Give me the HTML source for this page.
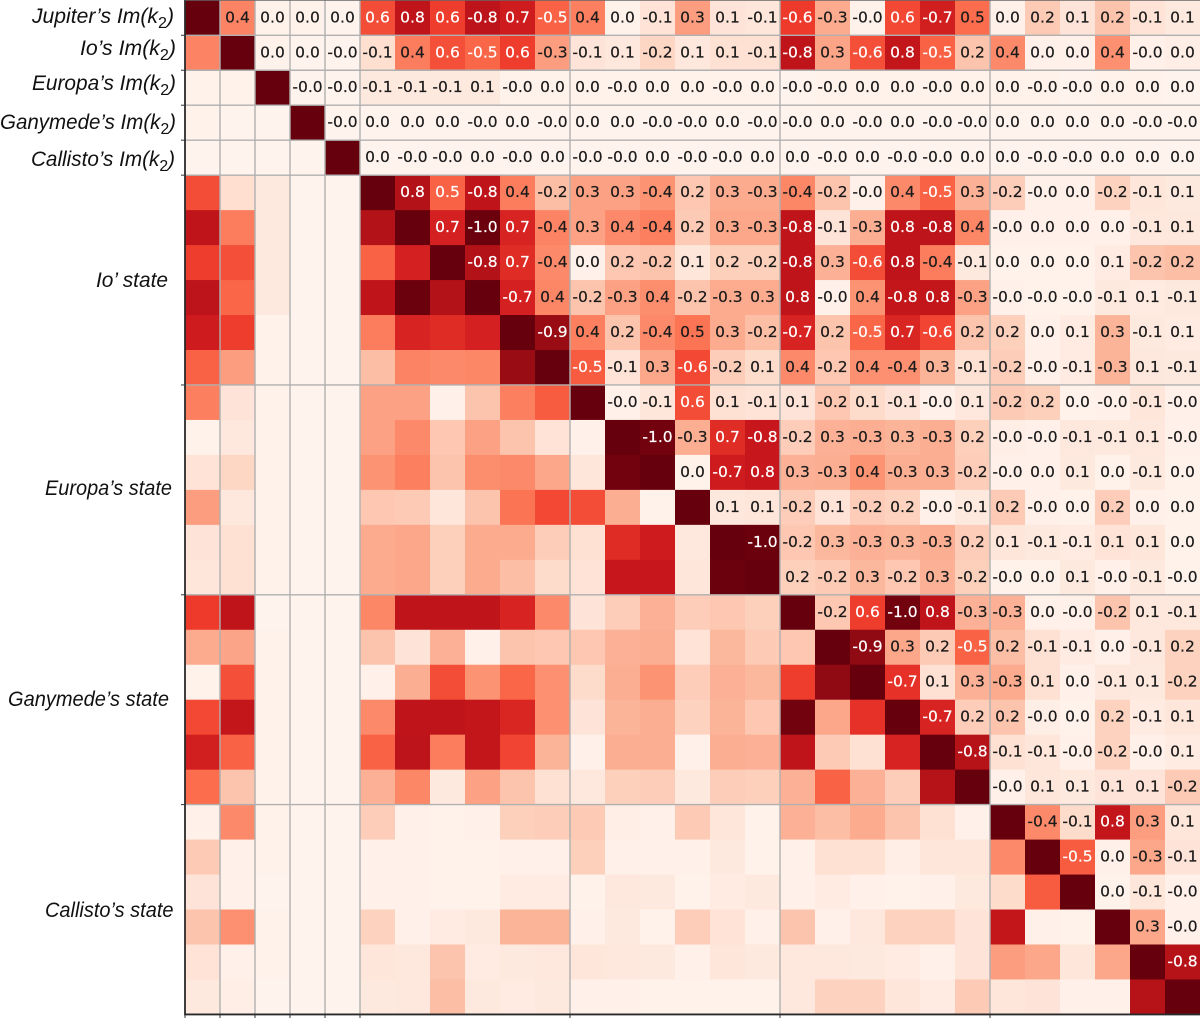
<!DOCTYPE html>
<html lang="en">
<head>
<meta charset="utf-8">
<title>Correlation matrix</title>
<style>
html,body{margin:0;padding:0;background:#fff;width:1200px;height:1018px;overflow:hidden}
svg{display:block}
.val{font-family:"DejaVu Sans",sans-serif;font-size:15.5px;text-anchor:middle;stroke-width:.2px}
.lab{font-family:"Liberation Sans",sans-serif;font-style:italic;font-size:21px;fill:#111}
</style>
</head>
<body>
<svg id="chart" xmlns="http://www.w3.org/2000/svg" width="1200" height="1018" viewBox="0 0 1200 1018"></svg>
<script>
// Upper-triangle correlation values, one array per row (values right of the diagonal)
const rowJupiterK2 = [0.42,0.02,0.02,0.01, 0.58,0.79,0.62,-0.80,0.74,-0.52, 0.43,0.02,-0.11,0.34,0.10,-0.09, -0.63,-0.30,-0.02,0.59,-0.73,0.49, 0.03,0.20,0.10,0.22,-0.11,0.07];
const rowIoK2 = [0.02,0.01,-0.01, -0.13,0.44,0.57,-0.51,0.62,-0.34, -0.10,0.08,-0.16,0.08,0.12,-0.12, -0.79,0.32,-0.57,0.78,-0.52,0.22, 0.40,0.03,0.03,0.38,-0.03,0.04];
const rowEuropaK2 = [-0.01,-0.01, -0.07,-0.07,-0.07,0.07,-0.02,0.02, 0.02,-0.02,0.02,0.02,-0.02,0.02, -0.01,-0.02,0.02,0.02,-0.02,0.02, 0.02,-0.02,-0.01,0.02,0.02,0.01];
const rowGanymedeK2 = [-0.01, 0.01,0.01,0.01,-0.01,0.01,-0.01, 0.01,0.01,-0.01,-0.01,0.01,-0.01, -0.01,0.01,-0.01,0.01,-0.01,-0.01, 0.01,0.01,0.01,0.01,-0.01,-0.01];
const rowCallistoK2 = [0.01,-0.01,-0.01,0.01,-0.01,0.01, -0.01,-0.01,0.01,-0.01,-0.01,0.01, 0.01,-0.01,0.01,-0.01,-0.01,0.01, 0.01,-0.01,-0.01,0.01,0.01,0.01];
const rowIo1 = [0.83,0.52,-0.79,0.44,-0.24, 0.33,0.33,-0.37,0.21,0.30,-0.30, -0.41,-0.22,-0.03,0.40,-0.52,0.28, -0.19,-0.03,0.03,-0.17,-0.09,0.07];
const rowIo2 = [0.72,-0.99,0.71,-0.42, 0.33,0.40,-0.43,0.20,0.31,-0.31, -0.79,-0.10,-0.29,0.79,-0.80,0.41, -0.03,0.03,0.03,0.03,-0.08,0.08];
const rowIo3 = [-0.83,0.68,-0.40, 0.03,0.21,-0.22,0.09,0.18,-0.18, -0.79,0.28,-0.58,0.79,-0.44,-0.07, 0.02,0.02,0.02,0.06,-0.22,0.24];
const rowIo4 = [-0.72,0.41, -0.22,-0.33,0.39,-0.22,-0.30,0.30, 0.79,-0.03,0.37,-0.78,0.78,-0.33, -0.03,-0.02,-0.02,-0.07,0.06,-0.07];
const rowIo5 = [-0.90, 0.43,0.22,-0.40,0.47,0.30,-0.24, -0.71,0.22,-0.51,0.70,-0.60,0.22, 0.18,0.03,0.06,0.27,-0.07,0.06];
const rowIo6 = [-0.54,-0.11,0.31,-0.59,-0.19,0.14, 0.40,-0.21,0.38,-0.38,0.27,-0.12, -0.19,-0.03,-0.06,-0.27,0.08,-0.07];
const rowEuropa1 = [-0.03,-0.09,0.58,0.12,-0.11, 0.10,-0.21,0.14,-0.10,-0.03,0.08, -0.20,0.18,0.02,-0.03,-0.09,-0.03];
const rowEuropa2 = [-0.98,-0.29,0.68,-0.76, -0.19,0.28,-0.29,0.27,-0.29,0.18, -0.04,-0.03,-0.08,-0.07,0.08,-0.03];
const rowEuropa3 = [0.02,-0.74,0.76, 0.28,-0.29,0.37,-0.29,0.29,-0.19, -0.03,0.03,0.07,0.02,-0.07,0.02];
const rowEuropa4 = [0.08,0.09, -0.19,0.11,-0.19,0.17,-0.03,-0.07, 0.20,-0.03,0.02,0.19,0.03,0.02];
const rowEuropa5 = [-0.99, -0.21,0.26,-0.28,0.27,-0.29,0.19, 0.09,-0.07,-0.06,0.11,0.09,0.02];
const rowEuropa6 = [0.18,-0.20,0.26,-0.21,0.28,-0.18, -0.02,0.02,0.07,-0.03,-0.07,-0.02];
const rowGanymede1 = [-0.21,0.62,-0.98,0.79,-0.28, -0.28,0.03,-0.03,-0.22,0.08,-0.08];
const rowGanymede2 = [-0.92,0.31,0.20,-0.52, 0.24,-0.12,-0.06,0.03,-0.08,0.17];
const rowGanymede3 = [-0.66,0.12,0.28, -0.30,0.12,0.03,-0.08,0.07,-0.17];
const rowGanymede4 = [-0.71,0.19, 0.22,-0.04,0.02,0.17,-0.06,0.09];
const rowGanymede5 = [-0.82, -0.12,-0.09,-0.03,-0.17,-0.03,0.06];
const rowGanymede6 = [-0.03,0.09,0.07,0.10,0.10,-0.20];
const rowCallisto1 = [-0.40,-0.14,0.78,0.34,0.09];
const rowCallisto2 = [-0.54,0.03,-0.31,-0.10];
const rowCallisto3 = [0.02,-0.09,-0.03];
const rowCallisto4 = [0.31,-0.03];
const rowCallisto5 = [-0.82];
const rowCallisto6 = [];
const upperRows = [rowJupiterK2,rowIoK2,rowEuropaK2,rowGanymedeK2,rowCallistoK2,rowIo1,rowIo2,rowIo3,rowIo4,rowIo5,rowIo6,rowEuropa1,rowEuropa2,rowEuropa3,rowEuropa4,rowEuropa5,rowEuropa6,rowGanymede1,rowGanymede2,rowGanymede3,rowGanymede4,rowGanymede5,rowGanymede6,rowCallisto1,rowCallisto2,rowCallisto3,rowCallisto4,rowCallisto5,rowCallisto6];

// Row index where each labelled block starts, and how many rows it covers
const blockNames = ["Jupiter’s Im(k2)","Io’s Im(k2)","Europa’s Im(k2)","Ganymede’s Im(k2)","Callisto’s Im(k2)","Io’ state","Europa’s state","Ganymede’s state","Callisto’s state"];
const blockSizes = [1,1,1,1,1,6,6,6,6];

const svg = document.getElementById('chart');
const NS = 'http://www.w3.org/2000/svg';
const plotLeft = 185, cellW = 35, plotTop = 0.3, cellH = 34.97;
const n = upperRows.length;
const xPos = function (i) { return plotLeft + i * cellW; };
const yPos = function (i) { return plotTop + i * cellH; };

function lerp(a, b, t) { return a + (b - a) * t; }
const ramp = [[255,245,240],[254,224,210],[252,187,161],[252,146,114],[251,106,74],[239,59,44],[203,24,29],[165,15,21],[103,0,13]];
function colorFor(v) {
  const t = Math.min(1, Math.abs(v)) * (ramp.length - 1);
  const k = Math.min(ramp.length - 2, Math.floor(t));
  const f = t - k;
  const c = ramp[k].map(function (a, m) { return Math.round(lerp(a, ramp[k + 1][m], f)); });
  return 'rgb(' + c.join(',') + ')';
}
function valueAt(r, c) {
  if (r === c) return 1;
  if (r < c) return upperRows[r][c - r - 1];
  return upperRows[c][r - c - 1];
}

// Heatmap cells
for (let r = 0; r < n; r++) {
  for (let c = 0; c < n; c++) {
    const cell = document.createElementNS(NS, 'rect');
    cell.setAttribute('x', xPos(c));
    cell.setAttribute('y', yPos(r));
    cell.setAttribute('width', cellW + 0.5);
    cell.setAttribute('height', cellH + 0.5);
    cell.setAttribute('fill', colorFor(valueAt(r, c)));
    
    
    svg.appendChild(cell);
  }
}

// Block boundaries
const rowBoundaries = [];
const colBoundaries = [];
let running = 0;
blockSizes.forEach(function (size) {
  running += size;
  if (running < n) { rowBoundaries.push(running); colBoundaries.push(running); }
});

// Grid lines
rowBoundaries.forEach(function (b) {
  const line = document.createElementNS(NS, 'line');
  line.setAttribute('x1', plotLeft);
  line.setAttribute('x2', 1200);
  line.setAttribute('y1', yPos(b));
  line.setAttribute('y2', yPos(b));
  line.setAttribute('stroke', '#b0b0b0');
  line.setAttribute('stroke-width', '1.4');
  
  
  svg.appendChild(line);
});
colBoundaries.forEach(function (b) {
  const line = document.createElementNS(NS, 'line');
  line.setAttribute('x1', xPos(b));
  line.setAttribute('x2', xPos(b));
  line.setAttribute('y1', 0);
  line.setAttribute('y2', yPos(n));
  line.setAttribute('stroke', '#b0b0b0');
  line.setAttribute('stroke-width', '1.4');
  
  
  svg.appendChild(line);
});

// Printed values, upper triangle only
for (let r = 0; r < n; r++) {
  for (let c = r + 1; c < n; c++) {
    const v = valueAt(r, c);
    const textColor = Math.abs(v) >= 0.5 ? '#ffffff' : '#1a1a1a';
    const label = document.createElementNS(NS, 'text');
    label.setAttribute('class', 'val');
    label.setAttribute('x', xPos(c) + cellW / 2);
    label.setAttribute('y', yPos(r) + cellH / 2 + 4.5);
    label.setAttribute('fill', textColor);
    label.setAttribute('stroke', textColor);
    
    
    label.textContent = v.toFixed(1);
    svg.appendChild(label);
  }
}

// Frame
const frameLeft = document.createElementNS(NS, 'line');
frameLeft.setAttribute('x1', plotLeft);
frameLeft.setAttribute('x2', plotLeft);
frameLeft.setAttribute('y1', 0);
frameLeft.setAttribute('y2', yPos(n) + 1);
frameLeft.setAttribute('stroke', '#2a2a2a');
frameLeft.setAttribute('stroke-width', '1.8');


svg.appendChild(frameLeft);

const frameBottom = document.createElementNS(NS, 'line');
frameBottom.setAttribute('x1', plotLeft);
frameBottom.setAttribute('x2', 1200);
frameBottom.setAttribute('y1', yPos(n));
frameBottom.setAttribute('y2', yPos(n));
frameBottom.setAttribute('stroke', '#2a2a2a');
frameBottom.setAttribute('stroke-width', '1.8');


svg.appendChild(frameBottom);

const frameTop = document.createElementNS(NS, 'line');
frameTop.setAttribute('x1', plotLeft);
frameTop.setAttribute('x2', 1200);
frameTop.setAttribute('y1', 0.3);
frameTop.setAttribute('y2', 0.3);
frameTop.setAttribute('stroke', '#666666');
frameTop.setAttribute('stroke-width', '1');


svg.appendChild(frameTop);

// Ticks
rowBoundaries.forEach(function (b) {
  const tick = document.createElementNS(NS, 'line');
  tick.setAttribute('x1', plotLeft - 4);
  tick.setAttribute('x2', plotLeft);
  tick.setAttribute('y1', yPos(b));
  tick.setAttribute('y2', yPos(b));
  tick.setAttribute('stroke', '#333333');
  tick.setAttribute('stroke-width', '1');
  
  
  svg.appendChild(tick);
});
[0].concat(colBoundaries).forEach(function (b) {
  const tick = document.createElementNS(NS, 'line');
  tick.setAttribute('x1', xPos(b));
  tick.setAttribute('x2', xPos(b));
  tick.setAttribute('y1', yPos(n));
  tick.setAttribute('y2', 1018);
  tick.setAttribute('stroke', '#333333');
  tick.setAttribute('stroke-width', '1');
  
  
  svg.appendChild(tick);
});

// Block labels
const labelRight = [174,176,176,176,175,168,172,169,173.5];
const labelLeft = [32,80,32,0,31,96,45,8,45];
const labelBaseline = [23,55,90,129,166,287,495,706,917];
blockNames.forEach(function (name, i) {
  const t = document.createElementNS(NS, 'text');
  t.setAttribute('class', 'lab');
  t.setAttribute('x', labelLeft[i]);
  t.setAttribute('y', labelBaseline[i]);
  t.setAttribute('textLength', labelRight[i] - labelLeft[i]);
  t.setAttribute('lengthAdjust', 'spacingAndGlyphs');
  
  
  const m = name.match(/^(.*k)2(\))$/);
  if (m) {
    const a = document.createElementNS(NS, 'tspan');
    a.textContent = m[1];
    const s = document.createElementNS(NS, 'tspan');
    s.setAttribute('dy', '5');
    s.setAttribute('font-size', '16');
    s.setAttribute('font-style', 'normal');
    s.textContent = '2';
    const e = document.createElementNS(NS, 'tspan');
    e.setAttribute('dy', '-5');
    e.textContent = m[2];
    t.appendChild(a);
    t.appendChild(s);
    t.appendChild(e);
  } else {
    t.textContent = name;
  }
  svg.appendChild(t);
});
</script>
</body>
</html>
